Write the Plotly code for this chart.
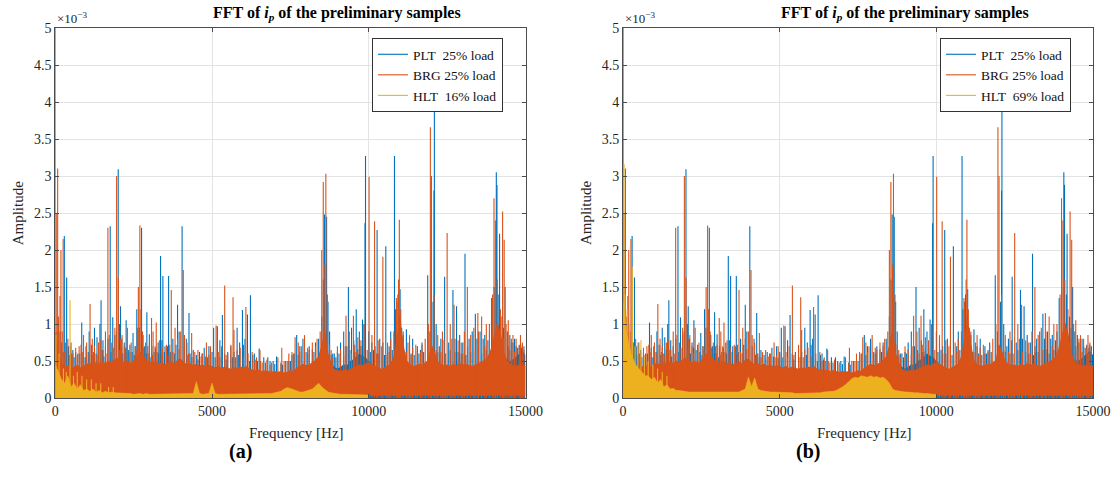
import plotly.graph_objects as go

# ---------------- data (amplitudes in units of 1e-3) ----------------
FREQ_STEP = 100
FREQ_BINS = list(range(0, 15001, FREQ_STEP))      # 0 .. 15000 Hz
HLT_BINS = list(range(0, 10001, FREQ_STEP))       # HLT spectrum stops at 10 kHz

# dense noise band (upper envelope), PLT
PLT_band = [0.5, 0.42, 0.4, 0.38, 0.39, 0.36, 0.38, 0.41, 0.37, 0.4, 0.42,
            0.43, 0.41, 0.44, 0.42, 0.45, 0.43, 0.46, 0.44, 0.48, 0.5,
            0.46, 0.44, 0.46, 0.43, 0.47, 0.52, 0.58, 0.54, 0.47, 0.45,
            0.47, 0.5, 0.46, 0.48, 0.45, 0.47, 0.49, 0.46, 0.52, 0.53,
            0.48, 0.45, 0.43, 0.44, 0.46, 0.43, 0.45, 0.42, 0.44, 0.43,
            0.41, 0.43, 0.4, 0.42, 0.41, 0.39, 0.41, 0.4, 0.42, 0.41,
            0.42, 0.38, 0.37, 0.36, 0.37, 0.35, 0.36, 0.35, 0.34, 0.35,
            0.34, 0.35, 0.33, 0.34, 0.36, 0.36, 0.4, 0.43, 0.46, 0.44,
            0.45, 0.48, 0.5, 0.56, 0.72, 0.92, 0.6, 0.48, 0.42, 0.4,
            0.42, 0.46, 0.44, 0.5, 0.52, 0.56, 0.6, 0.57, 0.55, 0.5,
            0.46, 0.43, 0.41, 0.39, 0.41, 0.43, 0.46, 0.56, 0.8, 1.02,
            0.72, 0.5, 0.45, 0.42, 0.43, 0.45, 0.44, 0.47, 0.5, 0.72,
            0.62, 0.48, 0.45, 0.43, 0.44, 0.42, 0.45, 0.43, 0.46, 0.44,
            0.45, 0.43, 0.42, 0.44, 0.46, 0.48, 0.5, 0.55, 0.65, 0.82,
            1.02, 0.88, 0.62, 0.52, 0.5, 0.52, 0.56, 0.6, 0.64, 0.58]

# dense noise band (upper envelope), BRG
BRG_band = [0.9, 0.6, 0.47, 0.42, 0.44, 0.4, 0.42, 0.45, 0.41, 0.44, 0.46,
            0.47, 0.45, 0.48, 0.46, 0.49, 0.47, 0.5, 0.48, 0.52, 0.54,
            0.5, 0.48, 0.5, 0.47, 0.51, 0.56, 0.62, 0.58, 0.51, 0.49,
            0.47, 0.5, 0.46, 0.48, 0.45, 0.47, 0.49, 0.46, 0.51, 0.52,
            0.48, 0.45, 0.47, 0.44, 0.46, 0.43, 0.45, 0.42, 0.44, 0.43,
            0.41, 0.43, 0.4, 0.42, 0.41, 0.39, 0.41, 0.4, 0.42, 0.41,
            0.43, 0.39, 0.38, 0.37, 0.38, 0.36, 0.37, 0.36, 0.35, 0.36,
            0.35, 0.36, 0.34, 0.35, 0.37, 0.36, 0.41, 0.43, 0.46, 0.44,
            0.45, 0.48, 0.51, 0.56, 0.7, 0.92, 0.6, 0.46, 0.39, 0.37,
            0.36, 0.38, 0.37, 0.39, 0.41, 0.43, 0.45, 0.44, 0.46, 0.48,
            0.46, 0.43, 0.41, 0.39, 0.41, 0.43, 0.46, 0.56, 0.8, 1.07,
            0.72, 0.51, 0.46, 0.43, 0.44, 0.46, 0.45, 0.48, 0.51, 0.72,
            0.62, 0.49, 0.46, 0.44, 0.45, 0.43, 0.46, 0.44, 0.47, 0.45,
            0.46, 0.44, 0.43, 0.45, 0.47, 0.49, 0.51, 0.56, 0.66, 0.82,
            1.02, 0.87, 0.62, 0.51, 0.46, 0.44, 0.43, 0.45, 0.44, 0.43]

# BRG noise floor (lower envelope) - above zero past 10 kHz
BRG_floor_f = [0, 9950, 10000, 15000]
BRG_floor = [0.0, 0.0, 0.03, 0.03]

# HLT band, figure (a) 16% load
HLT_a_band = [0.45, 0.35, 0.25, 0.2, 0.3, 0.15, 0.2, 0.12, 0.18, 0.1, 0.12,
              0.09, 0.12, 0.08, 0.1, 0.07, 0.09, 0.07, 0.08, 0.07, 0.07,
              0.06, 0.07, 0.06, 0.06, 0.05, 0.06, 0.06, 0.05, 0.06, 0.05,
              0.05, 0.06, 0.05, 0.05, 0.05, 0.06, 0.05, 0.05, 0.05, 0.05,
              0.05, 0.05, 0.05, 0.06, 0.22, 0.06, 0.05, 0.05, 0.06, 0.2,
              0.06, 0.05, 0.05, 0.05, 0.05, 0.05, 0.05, 0.05, 0.05, 0.05,
              0.05, 0.05, 0.05, 0.05, 0.05, 0.05, 0.06, 0.06, 0.06, 0.07,
              0.08, 0.09, 0.12, 0.14, 0.13, 0.11, 0.09, 0.08, 0.08, 0.09,
              0.1, 0.12, 0.16, 0.2, 0.15, 0.11, 0.08, 0.07, 0.06, 0.05,
              0.05, 0.05, 0.05, 0.04, 0.05, 0.04, 0.04, 0.04, 0.04, 0.04]

# HLT band, figure (b) 69% load
HLT_b_band = [1.3, 0.9, 0.7, 0.55, 0.45, 0.4, 0.35, 0.3, 0.3, 0.25, 0.28,
              0.2, 0.25, 0.15, 0.18, 0.12, 0.13, 0.1, 0.1, 0.09, 0.09,
              0.08, 0.08, 0.08, 0.07, 0.08, 0.07, 0.07, 0.07, 0.07, 0.07,
              0.07, 0.07, 0.07, 0.07, 0.07, 0.08, 0.08, 0.1, 0.12, 0.28,
              0.15, 0.27, 0.12, 0.1, 0.09, 0.08, 0.08, 0.08, 0.08, 0.07,
              0.07, 0.07, 0.07, 0.07, 0.06, 0.06, 0.06, 0.06, 0.06, 0.07,
              0.07, 0.07, 0.07, 0.08, 0.08, 0.08, 0.09, 0.1, 0.12, 0.15,
              0.18, 0.22, 0.26, 0.28, 0.27, 0.3, 0.29, 0.28, 0.3, 0.28,
              0.29, 0.27, 0.28, 0.25, 0.2, 0.12, 0.1, 0.09, 0.09, 0.08,
              0.08, 0.07, 0.07, 0.07, 0.06, 0.06, 0.06, 0.05, 0.05, 0.05]

# main spectral peaks (frequency Hz, amplitude 1e-3)
PLT_peak_f = [288, 362, 843, 1424, 1460, 1752, 1833, 2007, 2079, 2260, 2600, 2752,
              2921, 3358, 3432, 3614, 3900, 4045, 4265, 5170, 5330, 5970, 6130,
              6225, 6503, 6780, 7058, 8590, 8655, 9350, 9600, 9800, 9896, 9880,
              10266, 10543, 10820, 11000, 11200, 11880, 12093, 12080, 12420,
              12685, 12800, 13070, 13400, 13920, 14069, 14090, 14173, 14350,
              500, 650, 980, 1080, 1250, 1330, 1520, 1900, 2200, 2380, 2480,
              2850, 3000, 3150, 3280, 3500, 3750, 3850, 4180, 4400, 4600, 4750,
              4900, 5050, 5250, 5500, 5800, 5880, 6050, 6350, 6650, 6950, 7350,
              7550, 7700, 7900, 8100, 8300, 8900, 9100, 9200, 9450, 9700, 10100,
              10350, 10650, 11100, 11400, 11550, 11700, 12300, 12900, 13200,
              13300, 13550, 13650, 13800, 14500, 14650, 14800, 14950]
PLT_peak_a = [2.19, 1.63, 1.02, 1.0, 1.32, 2.32, 1.09, 3.09, 1.24, 1.05, 1.2, 2.30,
              1.16, 1.92, 1.65, 1.65, 1.26, 2.32, 1.15, 0.97, 1.12, 1.19, 1.13,
              1.39, 0.67, 0.55, 0.56, 2.48, 2.45, 1.50, 1.2, 1.06, 3.27, 2.36,
              2.27, 2.05, 3.27, 1.47, 0.93, 1.66, 4.01, 2.8, 1.64,
              1.46, 1.24, 1.95, 1.14, 1.35, 3.05, 2.88, 2.22, 1.5,
              0.75, 0.62, 0.7, 0.9, 0.95, 0.82, 0.78, 0.85, 0.75, 0.72, 0.88,
              0.7, 0.86, 0.62, 0.75, 0.7, 0.8, 0.72, 0.8, 0.65, 0.62, 0.68,
              0.7, 0.95, 0.78, 0.62, 0.95, 0.75, 0.8, 0.6, 0.55, 0.5, 0.5,
              0.58, 0.85, 0.8, 0.7, 0.75, 0.6, 0.75, 0.9, 0.95, 0.9, 0.75,
              0.8, 0.7, 0.85, 0.8, 0.7, 0.75, 0.8, 0.85, 0.8,
              0.9, 0.9, 0.8, 0.78, 0.85, 0.8, 0.72, 0.7]

# smaller peaks rising out of the PLT noise
PLT_minor_f = [150, 420, 560, 720, 900, 1150, 1380, 1600, 1680, 1950, 2050, 2120,
               2330, 2550, 2680, 2800, 3080, 3200, 3400, 3580, 3680, 3950, 4120,
               4300, 4500, 4680, 4850, 5000, 5400, 5600, 5700, 6000, 6300, 6450,
               6850, 7200, 7450, 7620, 7800, 8000, 8200, 8400, 8500, 8550, 8700,
               8750, 8850, 9000, 9300, 9520, 9650, 9850, 10000, 10200, 10450,
               10700, 10850, 10930, 10980, 11050, 11300, 11650, 11950, 12050,
               12150, 12250, 12550, 12750, 13000, 13150, 13450, 13700, 13850,
               14000, 14150, 14250, 14300, 14420, 14550, 14700, 14870]
PLT_minor_a = [0.9, 0.7, 0.65, 0.6, 0.68, 0.72, 0.66, 0.7, 0.8, 0.9, 1.0, 0.8,
               0.65, 0.7, 0.95, 0.85, 0.7, 0.68, 0.78, 0.7, 0.62, 0.9, 0.7,
               0.6, 0.58, 0.6, 0.55, 0.62, 0.6, 0.7, 0.62, 0.72, 0.58, 0.5,
               0.5, 0.48, 0.5, 0.6, 0.7, 0.62, 0.66, 0.8, 1.1, 1.6, 1.3,
               0.9, 0.6, 0.62, 0.7, 0.78, 0.66, 1.0, 0.9, 0.7, 0.75,
               0.9, 1.2, 1.4, 1.1, 0.95, 0.7, 0.65, 0.9, 1.3,
               1.0, 0.7, 0.75, 0.8, 0.75, 0.7, 0.8, 0.85, 0.9,
               1.5, 1.4, 1.1, 0.95, 0.9, 0.75, 0.7, 0.68]

# grass of small PLT peaks just above the noise band
PLT_small_f = [50, 250, 450, 600, 780, 950, 1050, 1200, 1300, 1500, 1550, 1780,
               2150, 2250, 2450, 2520, 2900, 3050, 3300, 3480, 3620, 3800, 4230,
               4350, 4550, 4800, 4950, 5100, 5450, 5650, 5850, 6200, 6400, 6700,
               7000, 7250, 7500, 7750, 8050, 8250, 8800, 8950, 9050, 9400, 9550,
               9750, 10050, 10150, 10300, 10500, 10750, 11150, 11350, 11450,
               11600, 11750, 12200, 12350, 12600, 12850, 12950, 13100, 13250,
               13500, 13600, 13750, 14450, 14600, 14750, 14900]
PLT_small_a = [0.7, 0.62, 0.58, 0.55, 0.6, 0.55, 0.62, 0.58, 0.6, 0.65, 0.56, 0.62,
               0.6, 0.68, 0.62, 0.58, 0.6, 0.55, 0.6, 0.62, 0.58, 0.6, 0.58,
               0.55, 0.52, 0.56, 0.54, 0.55, 0.52, 0.55, 0.58, 0.5, 0.52, 0.48,
               0.46, 0.45, 0.5, 0.58, 0.6, 0.62, 0.58, 0.55, 0.6, 0.65, 0.62,
               0.7, 0.62, 0.65, 0.6, 0.58, 0.65, 0.62, 0.6, 0.58,
               0.6, 0.62, 0.62, 0.6, 0.65, 0.62, 0.6, 0.58, 0.62,
               0.66, 0.6, 0.65, 0.7, 0.75, 0.68, 0.72]

BRG_peak_f = [0, 30, 75, 150, 180, 250, 1109, 1678, 1956, 2010, 2650, 2698, 3070,
              3220, 3700, 4083, 5404, 5670, 5700, 6080, 6530, 7225, 8500, 8548,
              8631, 9274, 9510, 10010, 10185, 10450, 10900, 10975, 11300, 11965,
              12000, 12500, 12720, 13145, 13480, 13995, 14040, 14269, 14320, 14840,
              400, 560, 760, 900, 1180, 1380, 1600, 2130, 2300, 2550, 2950, 3120,
              3320, 3550, 3820, 4200, 4350, 4550, 4820, 5130, 5300, 5600, 5900,
              6280, 6420, 6750, 7100, 7450, 7650, 7950, 8200, 8350, 8750, 9000,
              9380, 9650, 9850, 10300, 10600, 10800, 11250, 11500, 11800, 12200,
              12350, 12600, 12850, 13050, 13350, 13600, 13750, 14450, 14600,
              14700, 14900]
BRG_peak_a = [6.0, 2.5, 3.10, 1.38, 2.0, 2.15, 1.27, 2.30, 3.0, 1.63, 1.5, 2.33, 1.08,
              1.02, 1.46, 1.73, 1.52, 1.36, 0.92, 1.23, 0.65, 0.68, 2.0, 2.92,
              3.03, 1.11, 1.11, 2.99, 2.39, 1.91, 1.3, 2.41, 0.85, 3.66,
              3.0, 2.23, 1.26, 1.50, 1.15, 2.70, 2.4, 2.52, 2.14, 0.85,
              0.8, 0.6, 0.7, 0.85, 0.8, 0.75, 0.9, 0.85, 0.95, 0.7, 0.7, 0.9,
              0.78, 0.72, 0.95, 0.75, 0.88, 0.65, 0.75, 0.98, 0.7, 0.72, 0.68,
              0.62, 0.55, 0.52, 0.55, 0.6, 0.82, 0.85, 0.75, 0.8, 0.72, 0.7,
              0.9, 0.82, 1.0, 0.78, 0.75, 0.9, 0.75, 0.72, 0.8, 0.85,
              0.9, 1.0, 0.78, 0.9, 0.95, 1.1, 1.0, 1.05, 0.85,
              0.8, 0.75]

# smaller peaks rising out of the BRG noise
BRG_minor_f = [100, 220, 330, 480, 650, 820, 1000, 1250, 1450, 1720, 1800, 1900,
               2080, 2200, 2420, 2620, 2730, 2780, 2880, 3000, 3180, 3420, 3650,
               3900, 4000, 4120, 4450, 4700, 4950, 5200, 5500, 5800, 6150, 6550,
               6900, 7300, 7550, 7750, 7850, 8050, 8450, 8600, 8680, 8800, 9100,
               9250, 9550, 9750, 10100, 10400, 10700, 10880, 10950, 11020, 11100,
               11400, 11700, 11900, 12080, 12400, 12650, 12950, 13250, 13500,
               13850, 13950, 14100, 14200, 14380, 14550, 14800, 14950]
BRG_minor_a = [1.1, 0.9, 0.75, 0.7, 0.68, 0.72, 0.75, 0.7, 0.78, 0.85, 0.75, 0.95,
               0.8, 0.7, 0.75, 0.95, 1.2, 0.9, 0.75, 0.72, 0.7, 0.68, 0.72,
               0.8, 0.9, 0.85, 0.62, 0.6, 0.7, 0.62, 0.6, 0.65, 0.6, 0.5,
               0.48, 0.5, 0.62, 0.75, 0.7, 0.68, 0.9, 1.8, 1.4, 0.65, 0.66,
               0.7, 0.72, 0.78, 0.85, 0.7, 0.8, 1.35, 1.6, 1.2, 0.9,
               0.68, 0.72, 1.0, 1.4, 0.78, 0.8, 0.75, 0.85, 0.9,
               1.0, 1.4, 1.6, 1.2, 1.0, 0.8, 0.7, 0.65]

# grass of small BRG peaks just above the noise band
BRG_small_f = [60, 200, 300, 520, 700, 860, 1080, 1220, 1330, 1520, 1650, 1850,
               2050, 2250, 2380, 2580, 2820, 2980, 3100, 3250, 3380, 3600, 3750,
               3950, 4250, 4400, 4650, 4900, 5050, 5250, 5450, 5750, 6000, 6350,
               6600, 6850, 7200, 7400, 7600, 7800, 8100, 8300, 8850, 9200, 9450,
               9600, 9950, 10250, 10550, 10650, 11200, 11350, 11550, 11650,
               12150, 12300, 12450, 12750, 13000, 13150, 13400, 13700, 14300,
               14500, 14650, 14850]
BRG_small_a = [0.9, 0.75, 0.62, 0.6, 0.58, 0.62, 0.6, 0.62, 0.58, 0.65, 0.6, 0.68,
               0.65, 0.6, 0.62, 0.65, 0.68, 0.6, 0.58, 0.62, 0.6, 0.58, 0.62,
               0.66, 0.6, 0.55, 0.56, 0.58, 0.6, 0.55, 0.58, 0.55, 0.56, 0.5,
               0.48, 0.45, 0.46, 0.5, 0.6, 0.62, 0.65, 0.7, 0.55, 0.58, 0.6,
               0.62, 0.65, 0.6, 0.58, 0.62, 0.62, 0.58, 0.6, 0.62,
               0.65, 0.62, 0.6, 0.62, 0.6, 0.62, 0.65, 0.7, 0.8,
               0.65, 0.62, 0.6]

HLT_a_peak_f = [20, 120, 260, 350, 470, 580, 700, 850, 1000, 1150, 1300, 1450, 1700, 1850]
HLT_a_peak_a = [0.85, 0.6, 0.4, 0.35, 1.32, 0.3, 0.35, 0.3, 0.25, 0.25, 0.2, 0.2, 0.15, 0.15]

HLT_b_peak_f = [30, 60, 130, 200, 295, 380, 470, 570, 680, 800, 950, 1100, 1250, 1400]
HLT_b_peak_a = [3.16, 1.4, 1.2, 1.0, 1.77, 0.7, 0.75, 0.78, 0.55, 0.5, 0.45, 0.4, 0.35, 0.3]

LEGEND_A = ["PLT\u00a0\u00a025% load", "BRG 25% load", "HLT\u00a0\u00a016% load"]
LEGEND_B = ["PLT\u00a0\u00a025% load", "BRG 25% load", "HLT\u00a0\u00a069% load"]
TITLE = "<b>FFT of <i>i</i><sub><i>p</i></sub> of the preliminary samples</b>"

BLUE, ORANGE, YELLOW = "#0072BD", "#D95319", "#EDB120"
FONT = "Liberation Serif"

# ---------------- figure ----------------
def spikes(freqs, amps):
    xs, ys = [], []
    for f, a in zip(freqs, amps):
        xs += [f, f, None]
        ys += [0, a, None]
    return xs, ys

fig = go.Figure()

panels = [
    ("x", "y", "legend", LEGEND_A, HLT_a_band, HLT_a_peak_f, HLT_a_peak_a),
    ("x2", "y2", "legend2", LEGEND_B, HLT_b_band, HLT_b_peak_f, HLT_b_peak_a),
]

for xa, ya, leg, names, hband, hpf, hpa in panels:
    # PLT
    fig.add_trace(go.Scatter(x=FREQ_BINS, y=PLT_band, mode="lines", fill="tozeroy",
                             fillcolor=BLUE, line=dict(color=BLUE, width=0),
                             xaxis=xa, yaxis=ya, showlegend=False, hoverinfo="skip"))
    sx, sy = spikes(PLT_peak_f + PLT_minor_f + PLT_small_f,
                    PLT_peak_a + PLT_minor_a + PLT_small_a)
    fig.add_trace(go.Scatter(x=sx, y=sy, mode="lines", line=dict(color=BLUE, width=1.1),
                             name=names[0], legend=leg, xaxis=xa, yaxis=ya))
    # BRG
    fig.add_trace(go.Scatter(x=BRG_floor_f, y=BRG_floor, mode="lines",
                             line=dict(color=ORANGE, width=0),
                             xaxis=xa, yaxis=ya, showlegend=False, hoverinfo="skip"))
    fig.add_trace(go.Scatter(x=FREQ_BINS, y=BRG_band, mode="lines", fill="tonexty",
                             fillcolor=ORANGE, line=dict(color=ORANGE, width=0.6),
                             xaxis=xa, yaxis=ya, showlegend=False, hoverinfo="skip"))
    sx, sy = spikes(BRG_peak_f + BRG_minor_f + BRG_small_f,
                    BRG_peak_a + BRG_minor_a + BRG_small_a)
    fig.add_trace(go.Scatter(x=sx, y=sy, mode="lines", line=dict(color=ORANGE, width=1.1),
                             name=names[1], legend=leg, xaxis=xa, yaxis=ya))
    # HLT
    fig.add_trace(go.Scatter(x=HLT_BINS, y=hband, mode="lines", fill="tozeroy",
                             fillcolor=YELLOW, line=dict(color=YELLOW, width=0.6),
                             xaxis=xa, yaxis=ya, showlegend=False, hoverinfo="skip"))
    sx, sy = spikes(hpf, hpa)
    fig.add_trace(go.Scatter(x=sx, y=sy, mode="lines", line=dict(color=YELLOW, width=1.1),
                             name=names[2], legend=leg, xaxis=xa, yaxis=ya))

W, H = 1116, 493
xdom_a = [55.3 / W, 525.5 / W]
xdom_b = [623.1 / W, 1093.0 / W]
ydom = [1 - 398 / H, 1 - 28 / H]

axis_common = dict(showline=True, linecolor="#4d4d4d", linewidth=1, mirror="ticks",
                   ticks="inside", ticklen=4, tickcolor="#4d4d4d", automargin=False,
                   showgrid=True, gridcolor="#e3e3e3", gridwidth=1, zeroline=False,
                   tickfont=dict(family=FONT, size=14, color="#262626"))

legend_common = dict(xanchor="left", yanchor="top", traceorder="normal",
                     bgcolor="white", bordercolor="#333333", borderwidth=1,
                     font=dict(family=FONT, size=13.5, color="#111111"),
                     tracegroupgap=0, itemwidth=30)

fig.update_layout(
    width=W, height=H, margin=dict(l=0, r=0, t=0, b=0, autoexpand=False),
    paper_bgcolor="white", plot_bgcolor="white",
    font=dict(family=FONT, color="#262626"),
    xaxis=dict(domain=xdom_a, range=[0, 15000], dtick=5000, tickformat="d",
               anchor="y", **axis_common),
    yaxis=dict(domain=ydom, range=[0, 5], dtick=0.5, anchor="x", **axis_common),
    xaxis2=dict(domain=xdom_b, range=[0, 15000], dtick=5000, tickformat="d",
                anchor="y2", **axis_common),
    yaxis2=dict(domain=ydom, range=[0, 5], dtick=0.5, anchor="x2", **axis_common),
    legend=dict(x=372 / W, y=1 - 38 / H, **legend_common),
    legend2=dict(x=940 / W, y=1 - 38 / H, **legend_common),
    showlegend=True,
)

annotations = []
for dom, lab_x, lab in ((xdom_a, 240, "<b>(a)</b>"), (xdom_b, 808, "<b>(b)</b>")):
    cx = (dom[0] + dom[1]) / 2
    annotations.append(dict(text=TITLE, x=cx + 47 / W, y=1 - 14 / H, xref="paper",
                            yref="paper", showarrow=False,
                            font=dict(family=FONT, size=16, color="black"),
                            xanchor="center", yanchor="middle"))
    annotations.append(dict(text="Frequency [Hz]", x=cx + 6 / W, y=1 - 433 / H,
                            xref="paper", yref="paper", showarrow=False,
                            font=dict(family=FONT, size=15, color="#262626"),
                            xanchor="center", yanchor="middle"))
    annotations.append(dict(text=lab, x=lab_x / W, y=1 - 451 / H, xref="paper",
                            yref="paper", showarrow=False,
                            font=dict(family=FONT, size=20, color="black"),
                            xanchor="center", yanchor="middle"))
    annotations.append(dict(text="\u00d710<sup>\u22123</sup>", x=dom[0], y=1 - 18 / H,
                            xref="paper", yref="paper", showarrow=False,
                            font=dict(family=FONT, size=13, color="#262626"),
                            xanchor="left", yanchor="middle"))
    annotations.append(dict(text="Amplitude", x=dom[0] - 37 / W, y=(ydom[0] + ydom[1]) / 2,
                            xref="paper", yref="paper", showarrow=False, textangle=-90,
                            font=dict(family=FONT, size=15, color="#262626"),
                            xanchor="center", yanchor="middle"))
fig.update_layout(annotations=annotations)

fig.write_html("out.html", config={"displayModeBar": False},
               post_script="document.body.style.margin='0';")
